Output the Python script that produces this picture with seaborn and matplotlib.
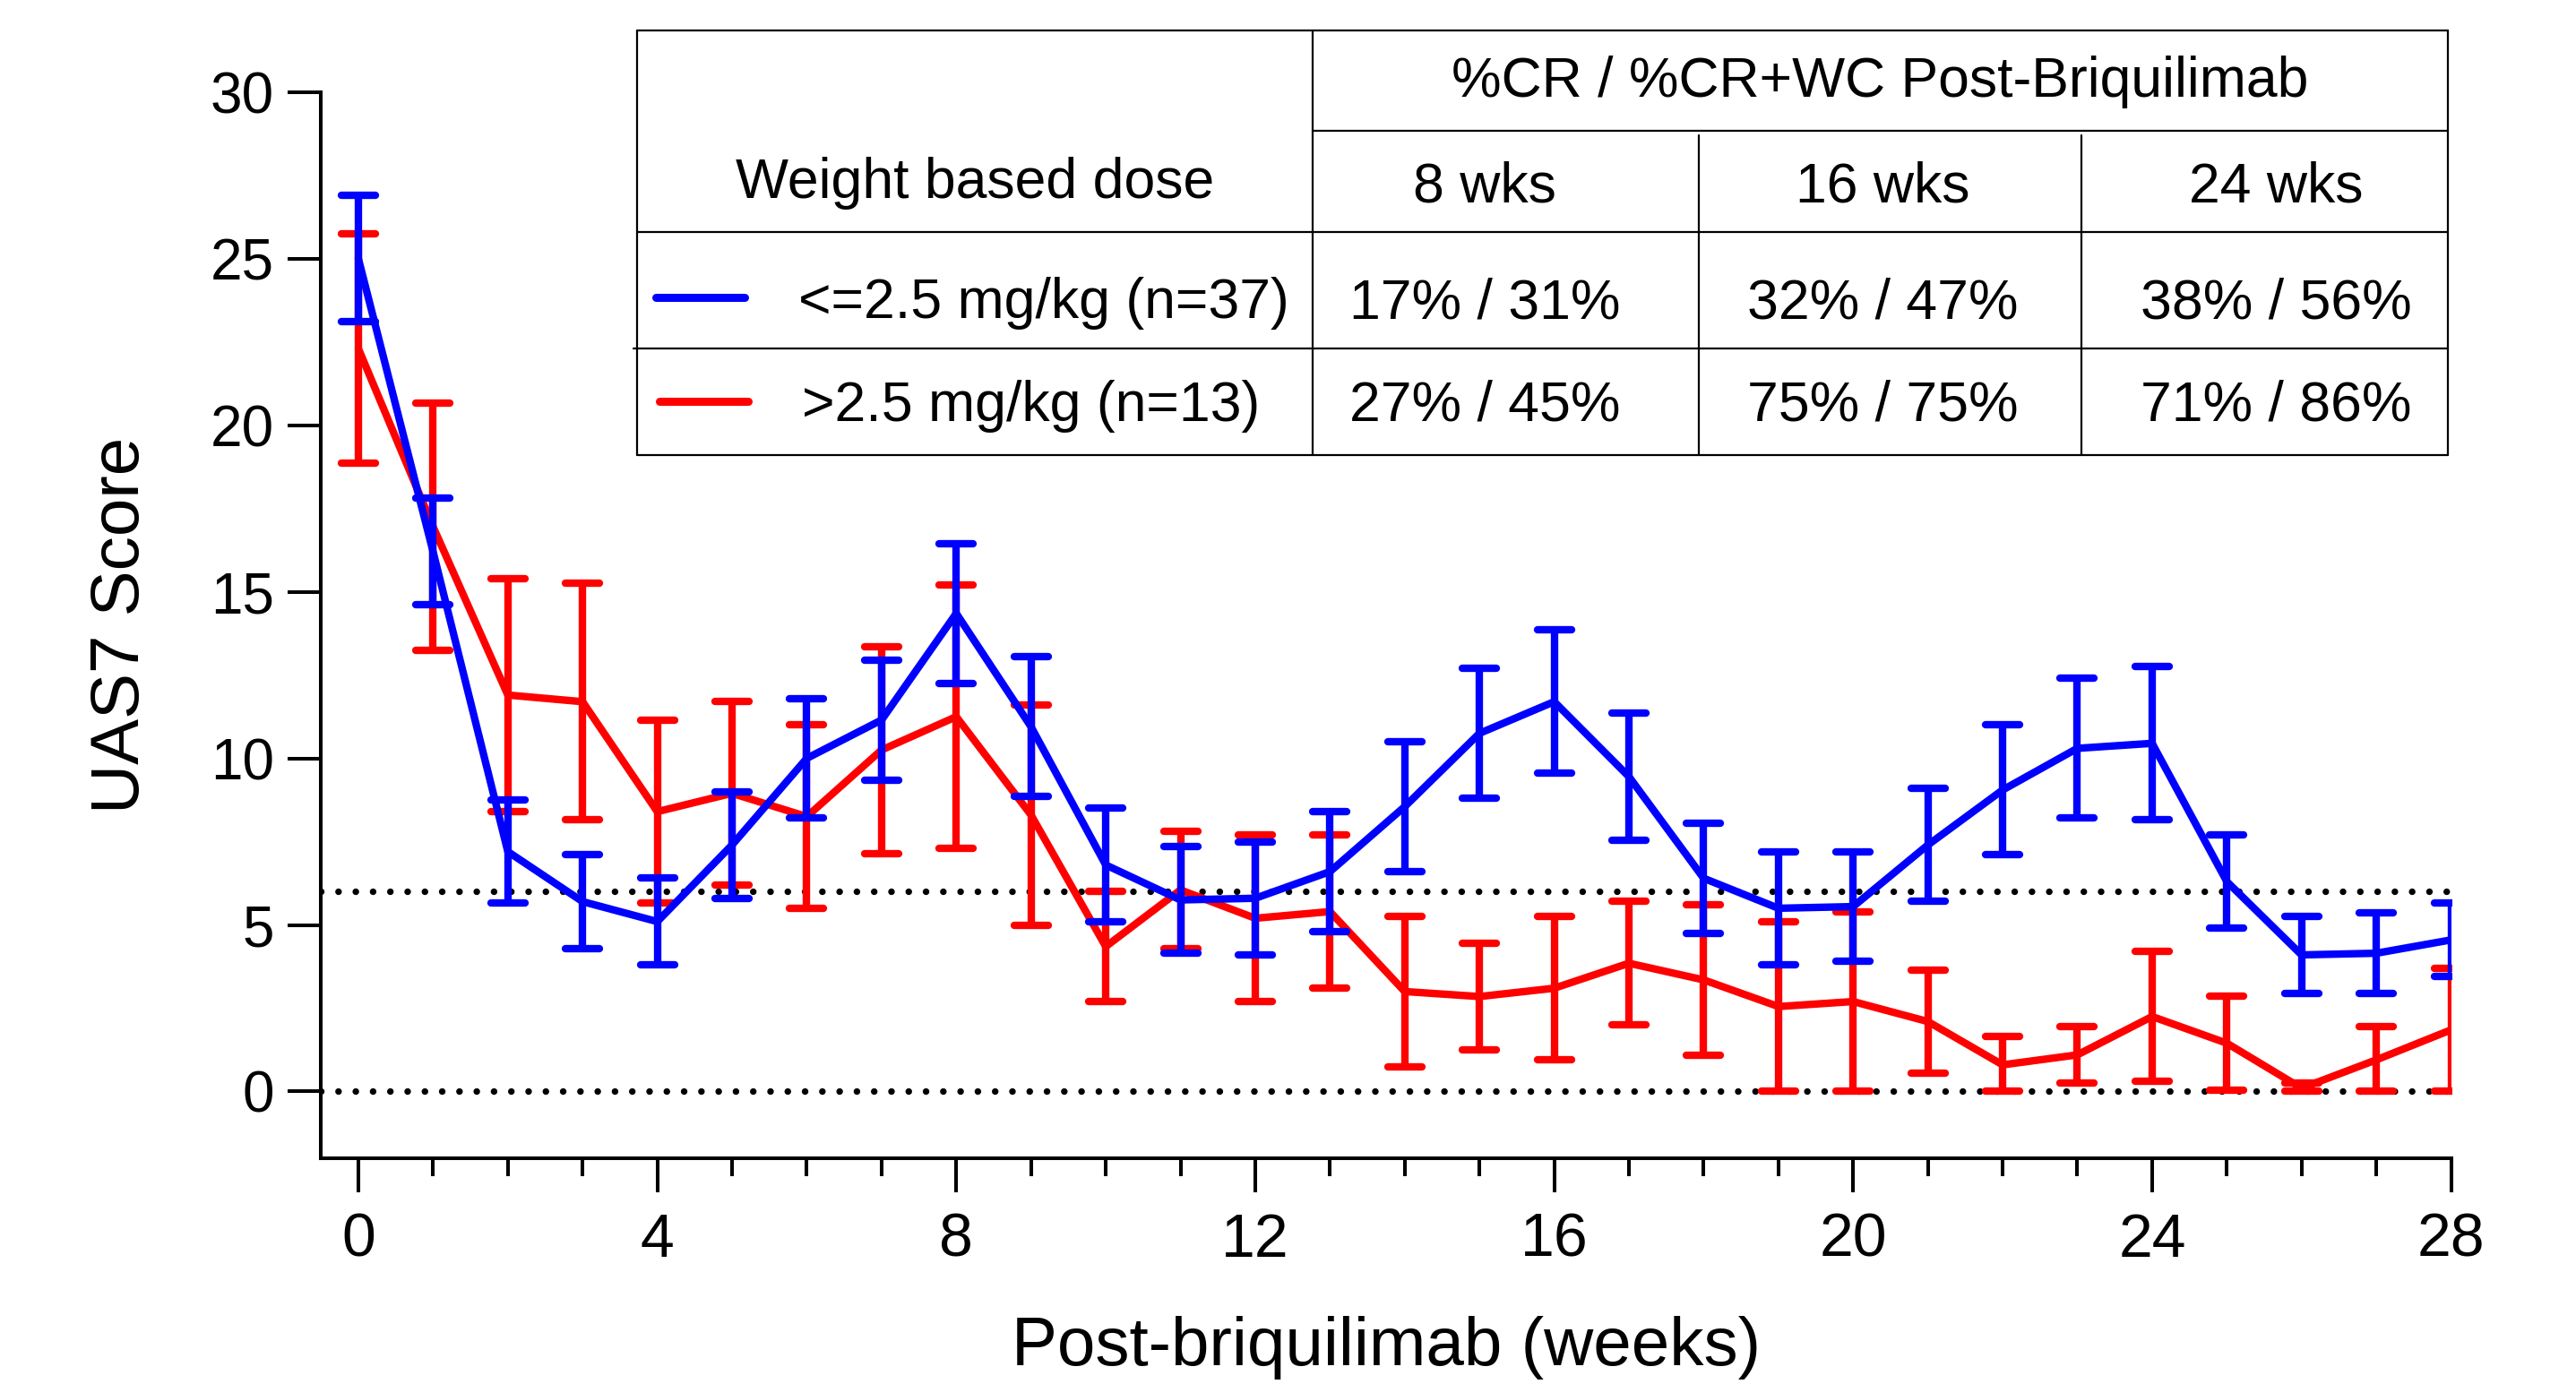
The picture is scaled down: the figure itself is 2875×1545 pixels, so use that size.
import numpy as np
import pandas as pd
import matplotlib
matplotlib.use("Agg")
import matplotlib.pyplot as plt
import seaborn as sns
from matplotlib.lines import Line2D
from matplotlib.markers import MarkerStyle

# ---------------- data ----------------
weeks = list(range(29))
low_dose_label = "<=2.5 mg/kg (n=37)"
high_dose_label = ">2.5 mg/kg (n=13)"

low_mean = [25.0, 16.2, 7.2, 5.7, 5.1, 7.4, 10.0, 11.15, 14.35, 10.95,
            6.8, 5.75, 5.8, 6.6, 8.55, 10.75, 11.7, 9.45, 6.4, 5.5,
            5.55, 7.4, 9.05, 10.3, 10.45, 6.3, 4.1, 4.15, 4.55]
low_sem = [1.9, 1.6, 1.55, 1.4, 1.3, 1.6, 1.8, 1.8, 2.1, 2.1,
           1.7, 1.6, 1.7, 1.8, 1.95, 1.95, 2.15, 1.9, 1.65, 1.7,
           1.65, 1.7, 1.95, 2.1, 2.3, 1.4, 1.15, 1.2, 1.1]

high_mean = [22.3, 16.95, 11.9, 11.7, 8.4, 8.95, 8.25, 10.25, 11.25, 8.3,
             4.35, 6.05, 5.2, 5.4, 3.0, 2.85, 3.1, 3.85, 3.35, 2.55,
             2.7, 2.1, 0.8, 1.1, 2.25, 1.45, 0.1, 0.95, 1.85]
high_sem = [3.45, 3.7, 3.5, 3.55, 2.75, 2.75, 2.75, 3.1, 3.95, 3.3,
            1.65, 1.75, 2.5, 2.3, 2.25, 1.6, 2.15, 1.85, 2.25, 2.55,
            2.7, 1.55, 0.85, 0.85, 1.95, 1.4, 0.15, 1.0, 1.85]

reference_lines = [6, 0]
x_ticks = [0, 4, 8, 12, 16, 20, 24, 28]
y_ticks = [0, 5, 10, 15, 20, 25, 30]

table_header = "%CR / %CR+WC Post-Briquilimab"
table_row_header = "Weight based dose"
table_timepoints = ["8 wks", "16 wks", "24 wks"]
low_response = ["17% / 31%", "32% / 47%", "38% / 56%"]
high_response = ["27% / 45%", "75% / 75%", "71% / 86%"]

BLUE = "#0000ff"
RED = "#ff0000"

# ---------------- style ----------------
sns.set_style("ticks")
plt.rcParams['font.family'] = ['Liberation Sans', 'DejaVu Sans']

W, H = 2875, 1545
fig = plt.figure(figsize=(W / 100, H / 100), dpi=100)
ax = fig.add_axes([0.1246, 0.1632, 0.9515 - 0.1246, 0.93353 - 0.1632])

df = pd.concat([
    pd.DataFrame({"week": weeks, "score": high_mean, "group": high_dose_label}),
    pd.DataFrame({"week": weeks, "score": low_mean, "group": low_dose_label}),
])

# reference dotted lines
for yv in reference_lines:
    ax.axhline(yv, color="black", lw=5.3, linestyle=(0, (0.01, 2.61)),
               dash_capstyle="round", zorder=1)

LW = 6.0
cap_marker = MarkerStyle("_", capstyle="round")
for label, mean, sem, color, z in [(high_dose_label, high_mean, high_sem, RED, 2),
                                    (low_dose_label, low_mean, low_sem, BLUE, 3)]:
    m = np.array(mean)
    s = np.array(sem)
    lower = np.minimum(s, m)
    eb = ax.errorbar(weeks, m, yerr=[lower, s], fmt="none", ecolor=color,
                     elinewidth=LW, capsize=14, capthick=LW, zorder=z)
    for cl in eb[1]:
        cl.set_marker(cap_marker)
    sns.lineplot(data=df[df["group"] == label], x="week", y="score",
                 color=color, linewidth=LW, estimator=None, sort=False,
                 legend=False, ax=ax, zorder=z,
                 solid_joinstyle="round", solid_capstyle="round")

ax.set_xlim(-0.5, 28)
ax.set_ylim(-2.0, 30)
ax.set_xticks(x_ticks)
ax.set_xticks(weeks, minor=True)
ax.set_yticks(y_ticks)
ax.tick_params(axis="x", which="major", length=27, width=2.9, labelsize=49,
               pad=16, color="black", labelcolor="black")
ax.tick_params(axis="x", which="minor", length=14.4, width=2.9, color="black")
ax.tick_params(axis="y", which="major", length=26.6, width=2.9, labelsize=46,
               pad=11, color="black", labelcolor="black")
for side in ["top", "right"]:
    ax.spines[side].set_visible(False)
for side in ["left", "bottom"]:
    ax.spines[side].set_linewidth(2.9)
    ax.spines[side].set_color("black")

ax.set_xlabel("Post-briquilimab (weeks)", fontsize=55, labelpad=38, color="black")
ax.set_ylabel("UAS7 Score", fontsize=55, labelpad=46, color="black")

# ---------------- table (figure coords from pixel layout) ----------------
def fx(px):
    return px / W

def fy(py):
    return 1 - py / H

TLW = 1.6
def hline(x0, x1, y):
    fig.add_artist(Line2D([fx(x0), fx(x1)], [fy(y), fy(y)], transform=fig.transFigure,
                          color="black", lw=TLW))

def vline(x, y0, y1):
    fig.add_artist(Line2D([fx(x), fx(x)], [fy(y0), fy(y1)], transform=fig.transFigure,
                          color="black", lw=TLW))

tl, c1, c2, c3, tr = 710.7, 1464.7, 1895.9, 2323.0, 2731.6
tt, tm, thb, trd, tb = 34.0, 146.0, 259.3, 389.3, 508.3

hline(tl, tr, tt)
hline(c1, tr, tm)
hline(tl, tr, thb)
hline(tl - 4, tr, trd)
hline(tl, tr, tb)
vline(tl, tt, tb)
vline(c1, tt, tb)
vline(c2, tm + 5, tb)
vline(c3, tm + 5, tb)
vline(tr, tt, tb)

FS = 45
def ftext(px, py, s, ha="center"):
    fig.text(fx(px), fy(py), s, ha=ha, va="baseline", fontsize=FS, color="black")

ftext((c1 + tr) / 2, 108, table_header)
ftext((tl + c1) / 2, 221, table_row_header)
col_centers = [1657, 2101, 2540]
for cx, s in zip(col_centers, table_timepoints):
    ftext(cx, 225, s)
for cx, s in zip(col_centers, low_response):
    ftext(cx, 355, s)
for cx, s in zip(col_centers, high_response):
    ftext(cx, 470, s)

fig.add_artist(Line2D([fx(732), fx(831)], [fy(332), fy(332)], transform=fig.transFigure,
                      color=BLUE, lw=6.5, solid_capstyle="round"))
fig.add_artist(Line2D([fx(736), fx(835)], [fy(448), fy(448)], transform=fig.transFigure,
                      color=RED, lw=6.5, solid_capstyle="round"))
ftext(891, 355, low_dose_label, ha="left")
ftext(895, 470, high_dose_label, ha="left")

fig.savefig("out.png", dpi=100)
